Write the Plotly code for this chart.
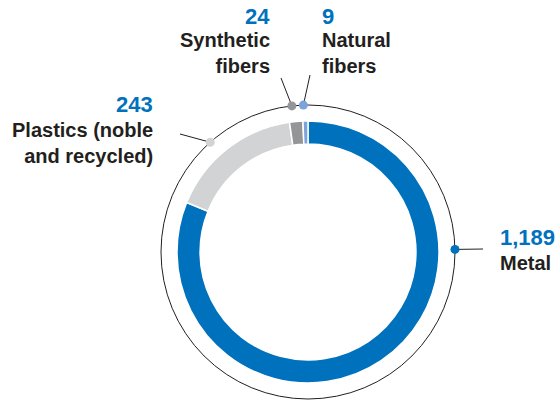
import math
import plotly.graph_objects as go

# ---- data ----
categories = ["Metal", "Plastics (noble and recycled)", "Synthetic fibers", "Natural fibers"]
values = [1189, 243, 24, 9]
value_labels = ["1,189", "243", "24", "9"]
label_lines = ["Metal", "Plastics (noble<br>and recycled)", "Synthetic<br>fibers", "Natural<br>fibers"]

# ---- style / layout ----
W, H = 557, 401
slice_colors = ["#0071bc", "#d1d3d4", "#939598", "#7ba3dc"]
NUM_COLOR = "#0071bc"
TXT_COLOR = "#231f20"
FONT = "Liberation Sans"

CX, CY = 308, 252        # centre (pixels)
R_OUT = 147              # thin outer circle
R_RING = 131             # donut outer radius
HOLE = 0.824

# dot angle (deg clockwise from 12 o'clock), leader end (px), label anchor
dot_angles = [89, -41.7, -6.3, -1.8]
leader_ends = [(483, 249), (180, 134), (281, 78), (310, 75)]
num_pos = [(498, 237, "left"), (155, 104, "right"), (272, 16, "right"), (320, 16, "left")]
lab_pos = [(498, 263, "left"), (155, 143, "right"), (272, 53, "right"), (320, 53, "left")]

fig = go.Figure()

fig.add_trace(go.Pie(
    values=values, labels=categories, sort=False, direction="clockwise", rotation=0,
    hole=HOLE, textinfo="none", hoverinfo="label+value",
    marker=dict(colors=slice_colors, line=dict(color="white", width=1.5)),
    domain=dict(x=[(CX - R_RING) / W, (CX + R_RING) / W],
                y=[1 - (CY + R_RING) / H, 1 - (CY - R_RING) / H]),
    showlegend=False,
))

for i, cat in enumerate(categories):
    a = math.radians(dot_angles[i])
    dx = CX + R_OUT * math.sin(a)
    dy = CY - R_OUT * math.cos(a)
    ex, ey = leader_ends[i]
    fig.add_trace(go.Scatter(x=[dx, ex], y=[dy, ey], mode="lines",
                             line=dict(color=TXT_COLOR, width=1), hoverinfo="skip",
                             showlegend=False))
    fig.add_trace(go.Scatter(x=[dx], y=[dy], mode="markers",
                             marker=dict(color=slice_colors[i], size=9),
                             name=cat, hoverinfo="name", showlegend=False))
    nx, ny, al = num_pos[i]
    fig.add_annotation(x=nx, y=ny, xref="x", yref="y", text=f"<b>{value_labels[i]}</b>",
                       showarrow=False, xanchor=al, yanchor="middle", align=al,
                       font=dict(family=FONT, size=22, color=NUM_COLOR))
    lx, ly, al = lab_pos[i]
    fig.add_annotation(x=lx, y=ly, xref="x", yref="y", text=f"<b>{label_lines[i]}</b>",
                       showarrow=False, xanchor=al, yanchor="middle", align=al,
                       font=dict(family=FONT, size=20, color=TXT_COLOR))

fig.add_shape(type="circle", xref="x", yref="y",
              x0=CX - R_OUT, x1=CX + R_OUT, y0=CY - R_OUT, y1=CY + R_OUT,
              line=dict(color=TXT_COLOR, width=1), layer="below")

fig.update_layout(
    width=W, height=H, margin=dict(l=0, r=0, t=0, b=0),
    paper_bgcolor="white", plot_bgcolor="rgba(0,0,0,0)",
    xaxis=dict(range=[0, W], visible=False, fixedrange=True),
    yaxis=dict(range=[H, 0], visible=False, fixedrange=True),
    showlegend=False,
)

fig.write_html("out.html", config={"displayModeBar": False},
               post_script="document.body.style.margin='0';document.body.style.overflow='hidden';")
